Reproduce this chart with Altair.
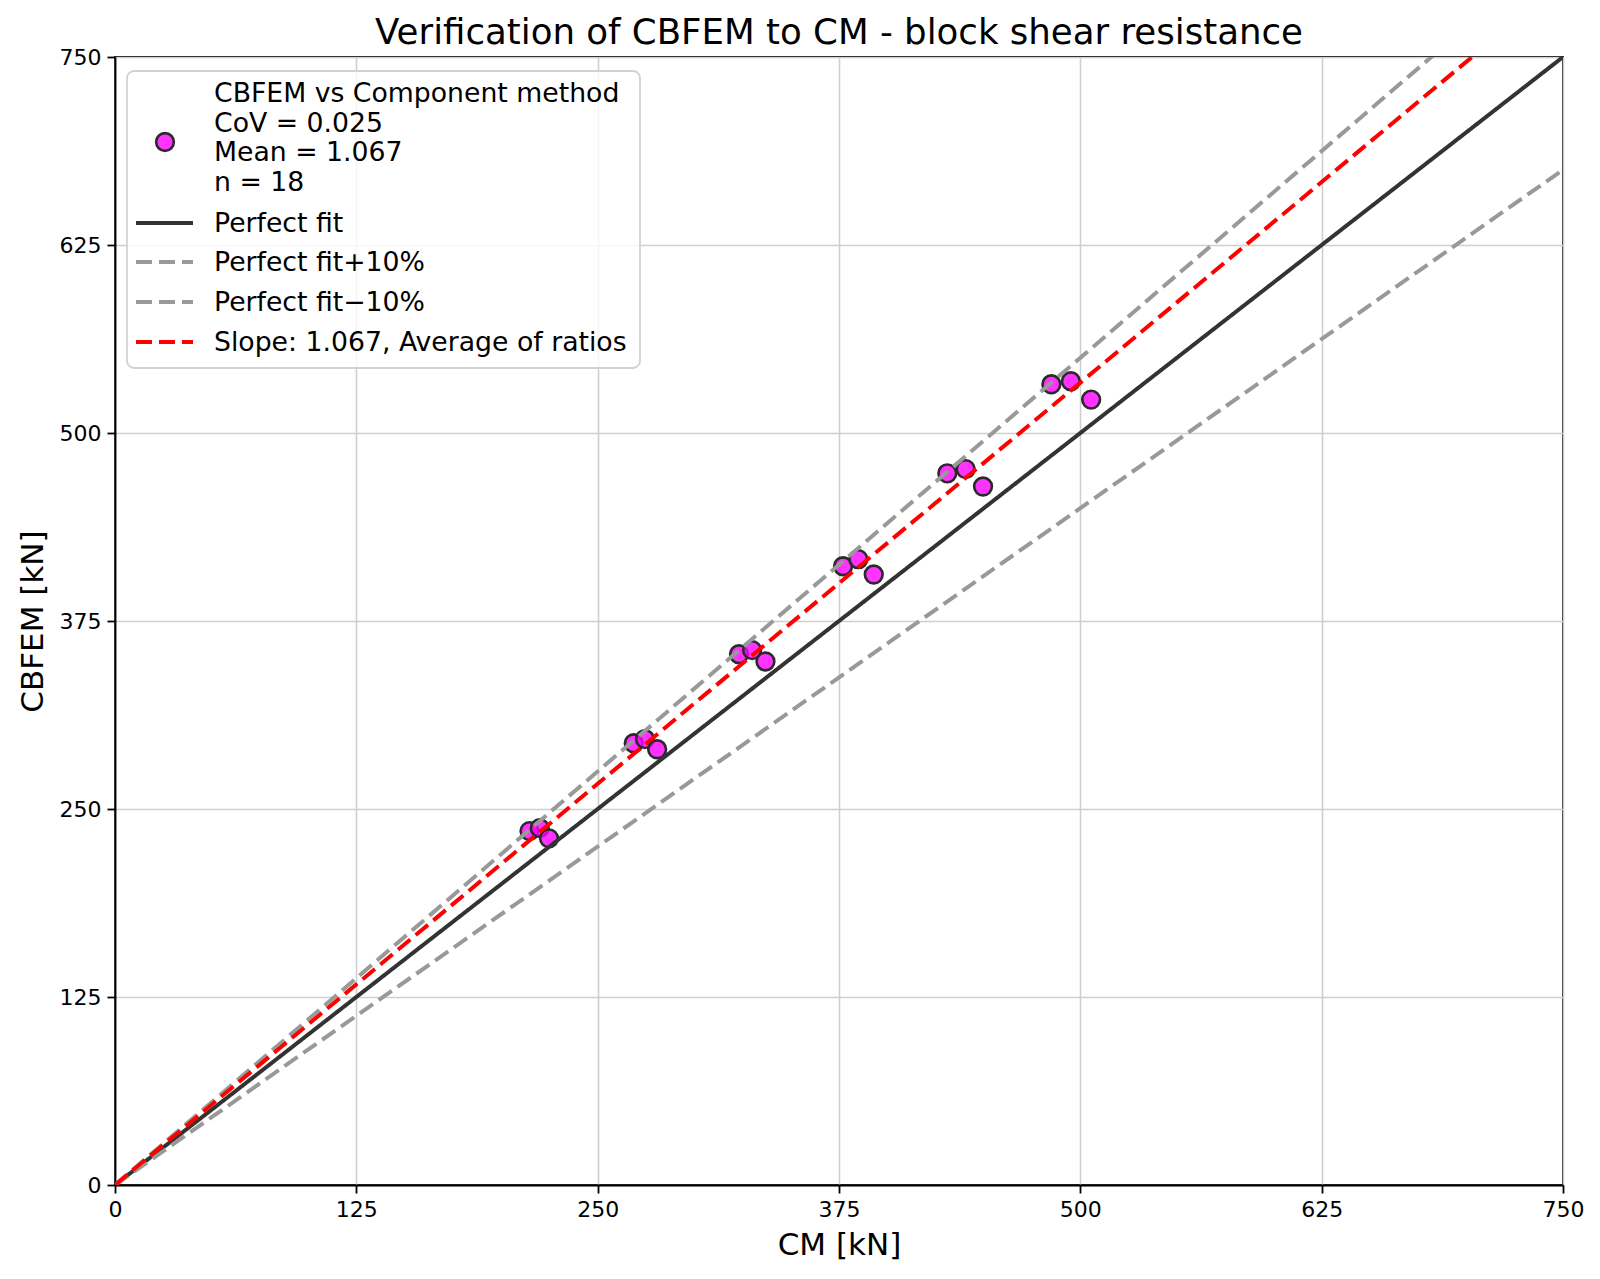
import altair as alt
import pandas as pd

# ---- data ----
cm_vals = [214.7, 220.0, 224.8, 268.7, 274.5, 280.8, 323.2, 330.0, 336.9,
           377.1, 385.0, 393.0, 431.1, 440.6, 449.6, 485.0, 495.1, 505.6]
cbfem_vals = [235.3, 237.3, 230.5, 293.7, 296.5, 289.7, 352.9, 355.6, 348.1,
              411.4, 416.1, 405.9, 473.2, 476.0, 464.4, 532.4, 534.4, 522.2]

line_names = ["Perfect fit", "Perfect fit+10%", "Perfect fit\u221210%",
              "Slope: 1.067, Average of ratios"]
line_slopes = [1.0, 1.1, 0.9, 1.067]
line_x_ends = [0, 750]

tick_values = [0, 125, 250, 375, 500, 625, 750]

scatter_label = "CBFEM vs Component method\nCoV = 0.025\nMean = 1.067\nn = 18"
title_text = "Verification of CBFEM to CM - block shear resistance"
x_title = "CM [kN]"
y_title = "CBFEM [kN]"

# ---- tables ----
pts = pd.DataFrame({"cm": cm_vals, "cbfem": cbfem_vals})
rows = []
for name, s in zip(line_names, line_slopes):
    for xv in line_x_ends:
        rows.append({"name": name, "x": xv, "y": s * xv})
lines = pd.DataFrame(rows)

FONT = "DejaVu Sans"
W, H = 1448, 1128

xscale = alt.Scale(domain=[0, 750], nice=False, zero=False)
yscale = alt.Scale(domain=[0, 750], nice=False, zero=False)

def axis(title, pad):
    return alt.Axis(values=tick_values, title=title, tickSize=8, tickWidth=1.8,
                    tickColor="black", domainColor="black", domainWidth=1.8,
                    labelFont=FONT, labelFontSize=22, labelColor="black",
                    labelPadding=6, labelFlush=False, labelOverlap=False,
                    titleFont=FONT, titleFontSize=31, titleFontWeight="normal",
                    titleColor="black", titlePadding=pad,
                    grid=True, gridColor="#cfcfcf", gridWidth=1.6)

PT_SIZE = 315

points = alt.Chart(pts).mark_point(
    shape="circle", filled=True, size=PT_SIZE, fill="#ff00ff", fillOpacity=0.8,
    stroke="#2a2a2a", strokeWidth=2.6, strokeOpacity=1
).encode(
    x=alt.X("cm:Q", scale=xscale, axis=axis(x_title, 10)),
    y=alt.Y("cbfem:Q", scale=yscale, axis=axis(y_title, 10)),
)

line_styles = [
    dict(color="#333333", strokeDash=[1, 0]),
    dict(color="#999999", strokeDash=[16, 7]),
    dict(color="#999999", strokeDash=[16, 7]),
    dict(color="#ff0000", strokeDash=[16, 7]),
]

line_layers = []
for name, st in zip(line_names, line_styles):
    line_layers.append(
        alt.Chart(lines).transform_filter(alt.datum.name == name)
        .mark_line(strokeWidth=4, clip=True, strokeCap="butt", **st)
        .encode(x=alt.X("x:Q", scale=xscale), y=alt.Y("y:Q", scale=yscale))
    )

# ---- legend and title (drawn in pixel space) ----
one = pd.DataFrame({"k": [0]})
leg_box = alt.Chart(one).mark_rect(
    fill="white", fillOpacity=0.8, stroke="#d2d2d2", strokeWidth=1.8, cornerRadius=7
).encode(x=alt.value(12), x2=alt.value(525), y=alt.value(14), y2=alt.value(311))

leg_pt = alt.Chart(one).mark_point(
    shape="circle", filled=True, size=PT_SIZE, fill="#ff00ff", fillOpacity=0.8,
    stroke="#2a2a2a", strokeWidth=2.6, strokeOpacity=1
).encode(x=alt.value(50), y=alt.value(85))

leg_txt0 = alt.Chart(one).mark_text(
    text=scatter_label, lineBreak="\n", lineHeight=29.5, font=FONT, fontSize=26.7,
    align="left", baseline="alphabetic", color="black"
).encode(x=alt.value(99), y=alt.value(45))

leg_items = []
leg_ys = [166, 205, 245, 285]
for name, st, yy in zip(line_names, line_styles, leg_ys):
    leg_items.append(
        alt.Chart(one).mark_rule(strokeWidth=4, strokeCap="butt", **st)
        .encode(x=alt.value(21), x2=alt.value(78), y=alt.value(yy))
    )
    leg_items.append(
        alt.Chart(one).mark_text(
            text=name, font=FONT, fontSize=26.7, align="left", baseline="middle",
            color="black"
        ).encode(x=alt.value(99), y=alt.value(yy + 1))
    )

title_mark = alt.Chart(one).mark_text(
    text=title_text, font=FONT, fontSize=35.6, align="center",
    baseline="alphabetic", color="black"
).encode(x=alt.value(W / 2), y=alt.value(-13))

chart = alt.layer(points, *line_layers, leg_box, leg_pt, leg_txt0, *leg_items,
                  title_mark).properties(
    width=W, height=H,
    autosize=alt.AutoSizeParams(type="none"),
    padding={"left": 107, "top": 49, "right": 25, "bottom": 80},
    background="white",
).configure_view(stroke="black", strokeWidth=1.8)

chart.save("out.html", embed_options={"renderer": "svg", "actions": False})
